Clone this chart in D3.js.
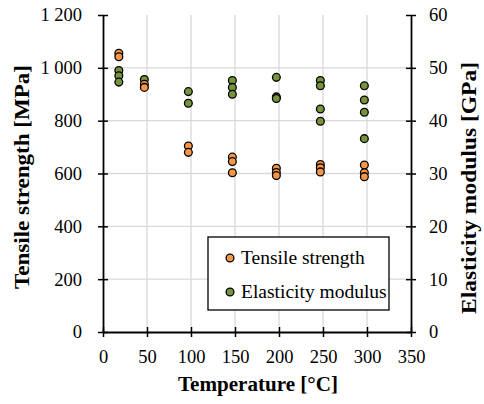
<!DOCTYPE html>
<html>
<head>
    <style>
        body { margin: 0; background: #fff; }
    </style>
</head>
<body>
    <svg width="484" height="404"></svg>
    <script src="https://d3js.org/d3.v7.min.js"></script>
    <script>
        // tensile strength points [MPa]
        var tsTemp = [18, 18, 47, 47, 97, 97, 147, 147, 147, 197, 197, 197, 247, 247, 247, 297, 297, 297];
        var tsValue = [1055, 1042, 938, 926, 704, 680, 662, 645, 603, 620, 604, 592, 634, 622, 606, 632, 603, 588];
        // elasticity modulus points [GPa]
        var emTemp = [18, 18, 18, 47, 97, 97, 147, 147, 147, 197, 197, 197, 247, 247, 247, 247, 297, 297, 297, 297];
        var emValue = [49.5, 48.5, 47.3, 47.8, 45.5, 43.3, 47.6, 46.3, 45.0, 48.2, 44.5, 44.2, 47.6, 46.6, 42.2, 39.9, 46.6, 43.9, 41.6, 36.6];

        var xTicks = [0, 50, 100, 150, 200, 250, 300, 350];
        var leftTicks = [0, 200, 400, 600, 800, 1000, 1200];
        var rightTicks = [0, 10, 20, 30, 40, 50, 60];

        var serif = "'Liberation Serif', 'Times New Roman', 'DejaVu Serif', serif";

        var svg = d3.select("svg");
        var margin = {left: 103, right: 73, top: 15, bottom: 72};
        var width = 484 - margin.left - margin.right;
        var height = 404 - margin.top - margin.bottom;
        var g = svg.append("g").attr("transform", "translate(" + margin.left + "," + margin.top + ")");

        var x = d3.scaleLinear().domain([0, 350]).range([0, width]);
        var yL = d3.scaleLinear().domain([0, 1200]).range([height, 0]);
        var yR = d3.scaleLinear().domain([0, 60]).range([height, 0]);

        // number format with space as thousands separator
        function fmt(d) {
            return d >= 1000 ? Math.floor(d / 1000) + " " + d3.format("03")(d % 1000) : d;
        }

        // gridlines
        g.append("g").selectAll("line").data(xTicks.slice(1, -1)).enter().append("line")
            .attr("x1", d => x(d)).attr("x2", d => x(d))
            .attr("y1", 0).attr("y2", height)
            .style("stroke", "#d9d9d9").style("stroke-width", 1.3);
        g.append("g").selectAll("line").data(leftTicks.slice(1, -1)).enter().append("line")
            .attr("y1", d => yL(d)).attr("y2", d => yL(d))
            .attr("x1", 0).attr("x2", width)
            .style("stroke", "#d9d9d9").style("stroke-width", 1.3);

        // axes
        var xAxis = g.append("g").attr("transform", "translate(0," + height + ")")
            .call(d3.axisBottom(x).tickValues(xTicks).tickSizeInner(5).tickSizeOuter(0).tickPadding(13));
        var lAxis = g.append("g")
            .call(d3.axisLeft(yL).tickValues(leftTicks).tickFormat(fmt).tickSizeInner(5).tickSizeOuter(0).tickPadding(16));
        var rAxis = g.append("g").attr("transform", "translate(" + width + ",0)")
            .call(d3.axisRight(yR).tickValues(rightTicks).tickSizeInner(5).tickSizeOuter(0).tickPadding(13));

        [xAxis, lAxis, rAxis].forEach(function(a) {
            a.attr("font-family", serif).attr("font-size", 18);
            a.select(".domain").style("stroke", "#000").style("stroke-width", 1.8);
            a.selectAll("text").style("font-family", serif).style("font-size", "18.5px").style("fill", "#000");
            a.selectAll(".tick line").style("stroke", "#000").style("stroke-width", 1.5);
        });
        // ticks cross the axis line
        xAxis.selectAll(".tick line").attr("y1", -5);
        lAxis.selectAll(".tick line").attr("x1", 5);
        rAxis.selectAll(".tick line").attr("x1", -5);

        // axis titles
        svg.append("text").attr("x", 258).attr("y", 391)
            .attr("text-anchor", "middle").style("font-family", serif)
            .style("font-size", "20px").style("font-weight", "bold")
            .attr("textLength", 160).attr("lengthAdjust", "spacingAndGlyphs")
            .text("Temperature [°C]");
        svg.append("text").attr("transform", "translate(29,177) rotate(-90)")
            .attr("text-anchor", "middle").style("font-family", serif)
            .style("font-size", "20px").style("font-weight", "bold")
            .attr("textLength", 224).attr("lengthAdjust", "spacingAndGlyphs")
            .text("Tensile strength [MPa]");
        svg.append("text").attr("transform", "translate(476,188) rotate(-90)")
            .attr("text-anchor", "middle").style("font-family", serif)
            .style("font-size", "20px").style("font-weight", "bold")
            .attr("textLength", 252).attr("lengthAdjust", "spacingAndGlyphs")
            .text("Elasticity modulus [GPa]");

        var orange = "#f79646";
        var green = "#77933c";

        // points
        g.append("g").selectAll("circle").data(emValue).enter().append("circle")
            .attr("cx", (d, i) => x(emTemp[i])).attr("cy", d => yR(d)).attr("r", 3.9)
            .style("fill", green).style("stroke", "#000").style("stroke-width", 1.3);
        g.append("g").selectAll("circle").data(tsValue).enter().append("circle")
            .attr("cx", (d, i) => x(tsTemp[i])).attr("cy", d => yL(d)).attr("r", 3.9)
            .style("fill", orange).style("stroke", "#000").style("stroke-width", 1.3);

        // legend
        var leg = svg.append("g").attr("transform", "translate(208,237)");
        leg.append("rect").attr("width", 181).attr("height", 73)
            .style("fill", "#fff").style("stroke", "#000").style("stroke-width", 1.3);
        var items = [{name: "Tensile strength", color: orange}, {name: "Elasticity modulus", color: green}];
        items.forEach(function(it, i) {
            var yy = 21 + i * 34;
            leg.append("circle").attr("cx", 22).attr("cy", yy).attr("r", 3.9)
                .style("fill", it.color).style("stroke", "#000").style("stroke-width", 1.3);
            leg.append("text").attr("x", 33).attr("y", yy + 6)
                .style("font-family", serif).style("font-size", "19.5px").text(it.name);
        });
    </script>
</body>
</html>
